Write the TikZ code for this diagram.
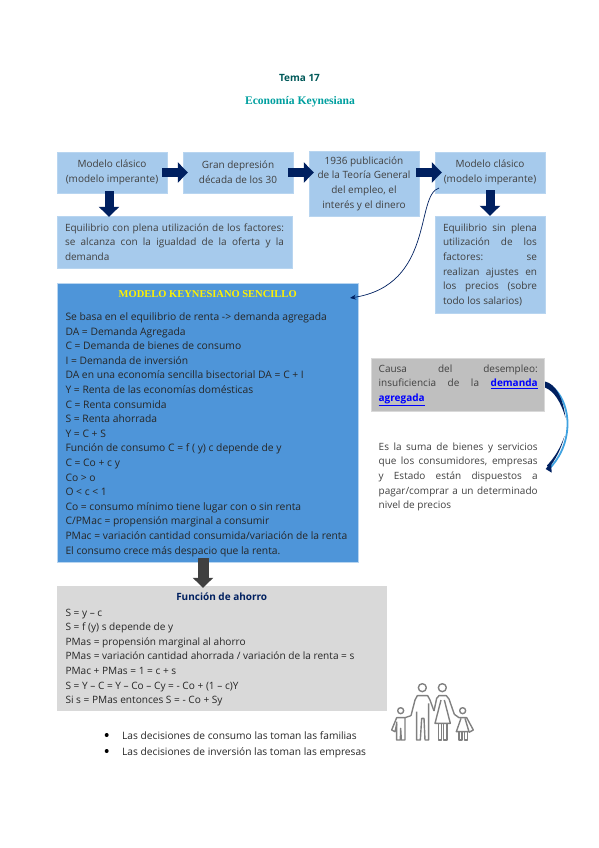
\documentclass[tikz,border=0pt]{standalone}
\usepackage{fontspec}
\setmainfont{Open Sans}
\newfontfamily\serifa{Liberation Serif}
\usepackage{tikz}
\usetikzlibrary{positioning, arrows.meta, calc}
\definecolor{mylight}{HTML}{A6CAEC}
\definecolor{myblue}{HTML}{4E95D9}
\definecolor{mynavy}{HTML}{002060}
\definecolor{myink}{HTML}{404040}
\definecolor{mygrey}{HTML}{BFBFBF}
\definecolor{mypale}{HTML}{D9D9D9}
\definecolor{mysky}{HTML}{3FA2E0}
\newcommand{\lns}{\fontsize{10}{14.6}\selectfont}

\begin{document}
\begin{tikzpicture}
[x=1pt, y=-1pt,
 lbox/.style={fill=mylight, draw=mylight!80!white, inner sep=0pt, text=myink, align=center},
 body/.style={inner sep=0pt, text=myink, anchor=north west, align=left},
 bigarr/.style={line width=9pt, mynavy, arrows={-{Triangle[width=20pt,length=10pt]}}},
 greyarr/.style={line width=11pt, myink, arrows={-{Triangle[width=20pt,length=10pt]}}},
 fam/.style={draw=gray, line width=1.4pt, line join=round}]
\useasboundingbox (0,0) rectangle (599,848);
\node[font=\lns\bfseries, text=teal!70!black] (tema) at (299.5,78) {Tema 17};
\node[font=\fontsize{11.6}{14}\selectfont\serifa\bfseries, text=teal!75!cyan] (titulo) at (300,101.5) {Economía Keynesiana};
% top row
\node[lbox, minimum width=110pt, minimum height=41pt, font=\lns] (clas1) at (112,172.5)
  {Modelo clásico\\(modelo imperante)};
\node[lbox, minimum width=110pt, minimum height=41pt, font=\lns] (gran) at (238,172.5)
  {Gran depresión\\década de los 30};
\node[lbox, minimum width=110pt, minimum height=65pt, font=\lns] (teoria) at (364,183.5)
  {1936 publicación\\de la Teoría General\\del empleo, el\\interés y el dinero};
\node[lbox, minimum width=110pt, minimum height=41pt, font=\lns] (clas2) at (490,172.5)
  {Modelo clásico\\(modelo imperante)};
% second row
\node[lbox, minimum width=235pt, minimum height=52pt, font=\lns, text width=219pt, align=justify] (equi1) at (174.5,242)
  {Equilibrio con plena utilización de los factores:\linebreak se alcanza con la igualdad de la oferta y la\linebreak demanda};
\node[lbox, minimum width=110pt, minimum height=97.5pt, font=\lns, text width=94pt, align=justify] (equi2) at (490,264.75)
  {Equilibrio sin plena\linebreak utilización de los\linebreak factores: se\linebreak realizan ajustes en\linebreak los precios (sobre\linebreak todo los salarios)};
% block arrows
\draw[bigarr, shorten <=-5pt, shorten >=-5pt] (clas1.east) -- (gran.west);
\draw[bigarr, shorten <=-5pt, shorten >=-5pt] (gran.east) -- (gran.east -| teoria.west);
\draw[bigarr, shorten <=-3pt, shorten >=-7pt] (teoria.east |- clas2.west) -- (clas2.west);
\draw[bigarr, shorten <=-2pt, shorten >=-1pt] (109,193) coordinate (a1) -- (a1 |- equi1.north);
\draw[bigarr, shorten <=-3pt, shorten >=0pt] (clas2.south) -- (equi2.north);
% modelo keynesiano
\node[fill=myblue, draw=mylight!80!white, inner sep=0pt, minimum width=301pt, minimum height=279pt] (keynes) at (207.5,422.5) {};
\node[font=\fontsize{10.5}{14}\selectfont\serifa\bfseries, text=yellow, inner sep=0pt] (keytit) at (207.7,294) {MODELO KEYNESIANO SENCILLO};
\node[body, font=\fontsize{10.3}{14.6}\selectfont, text=black!85] (keytxt) at (65.3,312.5) {Se basa en el equilibrio de renta -> demanda agregada\\
DA = Demanda Agregada\\
C = Demanda de bienes de consumo\\
I = Demanda de inversión\\
DA en una economía sencilla bisectorial DA = C + I\\
Y = Renta de las economías domésticas\\
C = Renta consumida\\
S = Renta ahorrada\\
Y = C + S\\
Función de consumo C = f ( y) c depende de y\\
C = Co + c y\\
Co > o\\
O < c < 1\\
Co = consumo mínimo tiene lugar con o sin renta\\
C/PMac = propensión marginal a consumir\\
PMac = variación cantidad consumida/variación de la renta\\
El consumo crece más despacio que la renta.};
% ahorro
\node[fill=mypale, inner sep=0pt, minimum width=330pt, minimum height=125pt] (ahorro) at (222,648.5) {};
\node[font=\lns\bfseries, text=mynavy, inner sep=0pt] (ahotit) at (221.7,596.7) {Función de ahorro};
\node[body, font=\fontsize{10.1}{14.6}\selectfont, text=black!85] (ahotxt) at (65.3,608.5) {S = y – c\\
S = f (y) s depende de y\\
PMas = propensión marginal al ahorro\\
PMas = variación cantidad ahorrada / variación de la renta = s\\
PMac + PMas = 1 = c + s\\
S = Y – C = Y – Co – Cy = - Co + (1 – c)Y\\
Si s = PMas entonces S = - Co + Sy};
\draw[greyarr, shorten <=-4pt, shorten >=-2pt] (203,562) coordinate (a2) -- (a2 |- ahorro.north);
% causa
\node[fill=mygrey, draw=mypale, inner sep=0pt, minimum width=173pt, minimum height=53pt] (causa) at (457.5,384.5) {};
\node[body, font=\lns, text width=159pt, align=justify] (causatxt) at (378.5,364.5)
  {Causa del desempleo:\linebreak insuficiencia de la \textcolor{blue}{\textbf{\underline{demanda}}}\linebreak \textcolor{blue}{\textbf{\underline{agregada}}}};
\node[body, font=\lns, text width=159pt, align=justify] (suma) at (378.5,442.5)
  {Es la suma de bienes y servicios\linebreak que los consumidores, empresas\linebreak y Estado están dispuestos a\linebreak pagar/comprar a un determinado\linebreak nivel de precios};
% list
\node[body, font=\fontsize{10.2}{16}\selectfont, text=black!85] (lista) at (122,731.5) {Las decisiones de consumo las toman las familias\\Las decisiones de inversión las toman las empresas};
\fill[black] (106.7,735) circle (2pt) (106.7,751) circle (2pt);
% thin curve
\coordinate (cfrom) at (439,188);
\coordinate (cto) at (350,298);
\draw[mynavy, line width=0.7pt, arrows={-{Stealth[length=6pt,width=5pt]}}] (cfrom) .. controls (415,195) and (435,285) .. (cto);
% thick curve on the right
\draw[mysky, line width=1.8pt] (546,384) .. controls (560,388) and (568,408) .. (567.5,425) .. controls (567,445) and (558,460) .. (549,469);
\fill[mynavy] (545,381.5) .. controls (556,384) and (563,398) .. (565.5,418) .. controls (561,402) and (554,391) .. (545,387.5) -- cycle;
\fill[mynavy] (564.5,436) .. controls (561,450) and (555,460) .. (549,468) -- (547,465.5) .. controls (554,458) and (560,449) .. (564.5,436) -- cycle;
\fill[mynavy] (545.7,469) -- (551,462) -- (551.7,472.7) -- cycle;
% family
\begin{scope}[shift={(385,675)}, x=0.3333pt, y=-0.3333pt]
\draw[fam] (112,38) circle (4pt) (172,38) circle (4pt) (47,107) circle (3pt) (233,107) circle (3pt);
% father
\draw[fam] (78,122) -- (90,75) -- (97,62) -- (128,62) -- (135,75) -- (147,108);
\draw[fam] (95,110) -- (95,195) -- (106,195) -- (110,130) -- (117,130) -- (120,195) -- (131,195) -- (131,85);
% mother
\draw[fam] (147,108) -- (155,70) -- (162,62) -- (184,62) -- (192,72) -- (208,118);
\draw[fam] (168,75) -- (150,145) -- (196,145) -- (178,75);
\draw[fam] (160,145) -- (160,195) -- (170,195) -- (170,145) (176,145) -- (176,195) -- (186,195) -- (186,145);
% kids
\draw[fam] (78,122) -- (60,128) -- (35,128) -- (20,165) -- (30,170) -- (35,148);
\draw[fam] (35,140) -- (35,195) -- (46,195) -- (47,160) -- (49,195) -- (60,195) -- (60,128);
\draw[fam] (208,118) -- (222,128) -- (245,128) -- (265,165) -- (252,172);
\draw[fam] (228,130) -- (214,170) -- (252,170) -- (240,130);
\draw[fam] (222,170) -- (222,195) -- (231,195) -- (231,170) (238,170) -- (238,195) -- (247,195) -- (247,170);
\end{scope}
\end{tikzpicture}
\end{document}
